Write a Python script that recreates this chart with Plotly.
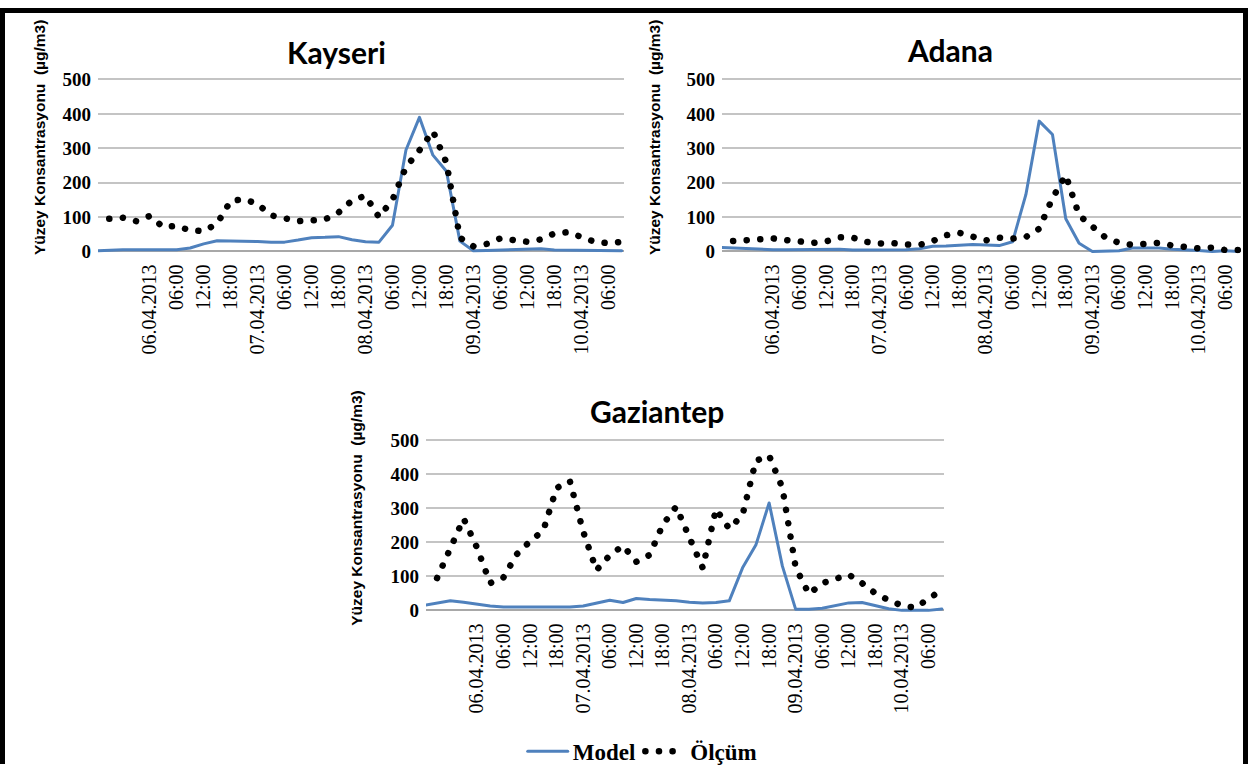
import plotly.graph_objects as go

# time axis: hours relative to 06.04.2013 00:00 (3-hourly samples)
hours = list(range(-12, 106, 3))

tick_hours = [0, 6, 12, 18, 24, 30, 36, 42, 48, 54, 60, 66, 72, 78, 84, 90, 96, 102]
tick_labels = ["06.04.2013", "06:00", "12:00", "18:00",
               "07.04.2013", "06:00", "12:00", "18:00",
               "08.04.2013", "06:00", "12:00", "18:00",
               "09.04.2013", "06:00", "12:00", "18:00",
               "10.04.2013", "06:00"]

kayseri_model = [2, 4, 5, 5, 5, 5, 5, 10, 22, 31,
                 31, 31, 29, 27, 27, 33, 40, 41, 43, 34,
                 28, 27, 76, 295, 390, 280, 233, 30, 2, 3,
                 4, 5, 7, 8, 4, 4, 4, 3, 2, 2]
kayseri_olcum = [None, 95, 98, 88, 103, 71, 74, 61, 59, 81,
                 147, 152, 138, 105, 96, 88, 90, 93, 113, 148,
                 162, 100, 150, 245, 294, 350, 258, 40, 15, 22,
                 38, 32, 28, 35, 52, 56, 42, 28, 24, 28]

adana_model = [12, 10, 8, 7, 5, 5, 5, 6, 7, 6,
               4, 4, 4, 4, 5, 8, 15, 16, 18, 20,
               19, 17, 28, 165, 379, 340, 95, 24, 0, 0,
               2, 10, 10, 10, 6, 5, 3, 0, 2, 0]
adana_olcum = [None, 30, 32, 34, 38, 33, 27, 25, 29, 41,
               40, 28, 23, 24, 20, 19, 30, 47, 54, 43,
               32, 40, 37, 42, 66, 155, 222, 105, 75, 40,
               25, 19, 22, 25, 17, 12, 9, 11, 4, 4]

gaziantep_model = [15, 22, 28, 24, 18, 13, 10, 10, 10, 10,
                   10, 10, 13, 22, 30, 23, 35, 32, 31, 28,
                   24, 22, 23, 28, 125, 192, 316, 130, 3, 3,
                   6, 15, 22, 23, 15, 5, 0, 0, 0, 4]
gaziantep_olcum = [None, 95, 187, 270, 185, 80, 97, 165, 203, 235,
                   360, 380, 232, 118, 162, 190, 143, 163, 252, 305,
                   214, 125, 298, 240, 281, 440, 455, 360, 126, 48,
                   80, 93, 105, 80, 50, 30, 14, 8, 32, 60]

y_ticks = [0, 100, 200, 300, 400, 500]

panels = [
    ("Kayseri", kayseri_model, kayseri_olcum, "x", "y"),
    ("Adana", adana_model, adana_olcum, "x2", "y2"),
    ("Gaziantep", gaziantep_model, gaziantep_olcum, "x3", "y3"),
]

W, H = 1248, 773
BLUE = "#4F81BD"

fig = go.Figure()
for i, (name, model, olcum, xa, ya) in enumerate(panels):
    fig.add_trace(go.Scatter(
        x=hours, y=model, mode="lines", name="Model", xaxis=xa, yaxis=ya,
        line=dict(color=BLUE, width=3), showlegend=(i == 2), legendrank=1))
    fig.add_trace(go.Scatter(
        x=hours, y=olcum, mode="lines", name="Ölçüm", xaxis=xa, yaxis=ya,
        line=dict(color="black", width=6.5, dash="0.1px,13.5px"),
        showlegend=(i == 2), legendrank=2))


def px_x(a, b):
    return [a / W, b / W]


def px_y(top, bottom):
    return [(H - bottom) / H, (H - top) / H]


x_dom = [px_x(98, 624), px_x(722, 1241), px_x(426, 944)]
y_dom = [px_y(71, 251), px_y(71, 251), px_y(440, 618)]

tickfont_x = dict(family="Liberation Serif", size=20, color="black")
tickfont_y = dict(family="Liberation Serif", size=19, color="black", weight="bold")

layout_axes = {}
for i in range(3):
    sfx = "" if i == 0 else str(i + 1)
    layout_axes["xaxis" + sfx] = dict(
        domain=x_dom[i], range=[-11.5, 105.5], tickmode="array",
        tickvals=tick_hours, ticktext=tick_labels, tickangle=-90,
        tickfont=tickfont_x, showgrid=False, zeroline=False, showline=False,
        ticks="", ticklabelstandoff=6, anchor="y" + sfx, fixedrange=True)
    layout_axes["yaxis" + sfx] = dict(
        domain=y_dom[i], range=[-6, 506], tickmode="array", tickvals=y_ticks,
        tickfont=tickfont_y, showgrid=True, gridcolor="#C4C4C4", gridwidth=1.5,
        zeroline=True, zerolinecolor="#A8A8A8", zerolinewidth=1.5,
        showline=False, ticks="", ticklabelstandoff=6, anchor="x" + sfx,
        fixedrange=True)

titles = [("Kayseri", 336, 45), ("Adana", 950, 43), ("Gaziantep", 657, 412)]
ytitles = [(39, 133), (654, 133), (357, 512)]
annotations = []
for t, x, y in titles:
    annotations.append(dict(text=t, x=x / W, y=(H - y) / H, xref="paper", yref="paper",
                            showarrow=False, xanchor="center", yanchor="middle",
                            font=dict(family="Lato", size=30, color="black",
                                      weight="bold")))
for x, y in ytitles:
    annotations.append(dict(text="Yüzey Konsantrasyonu\u00a0\u00a0(µg/m3)", x=x / W, y=(H - y) / H,
                            xref="paper", yref="paper", showarrow=False, textangle=-90,
                            xanchor="center", yanchor="middle",
                            font=dict(family="Liberation Sans", size=15.5, color="black",
                                      weight="bold")))

shapes = [
    dict(type="rect", xref="paper", yref="paper", x0=0, x1=5 / W, y0=0, y1=1,
         fillcolor="black", line=dict(width=0)),
    dict(type="rect", xref="paper", yref="paper", x0=1 - 5 / W, x1=1, y0=0, y1=1,
         fillcolor="black", line=dict(width=0)),
    dict(type="rect", xref="paper", yref="paper", x0=0, x1=1, y0=1 - 5 / H, y1=1,
         fillcolor="black", line=dict(width=0)),
]

fig.update_layout(
    width=W, height=H, margin=dict(l=0, r=0, t=0, b=0, pad=0),
    paper_bgcolor="white", plot_bgcolor="white",
    annotations=annotations, shapes=shapes,
    legend=dict(orientation="h", x=0.515, y=(H - 760) / H, xanchor="center",
                yanchor="middle", font=dict(family="Liberation Serif", size=23,
                                            color="black", weight="bold"),
                bgcolor="rgba(0,0,0,0)", itemwidth=40),
    **layout_axes,
)

post = """
var st = document.createElement('style');
st.innerHTML = '.js-line{stroke-linecap:round !important;stroke-linejoin:round !important;} body{margin:0 !important;overflow:hidden;}';
document.head.appendChild(st);
"""
fig.write_html("out.html", post_script=post, config={"displayModeBar": False})
